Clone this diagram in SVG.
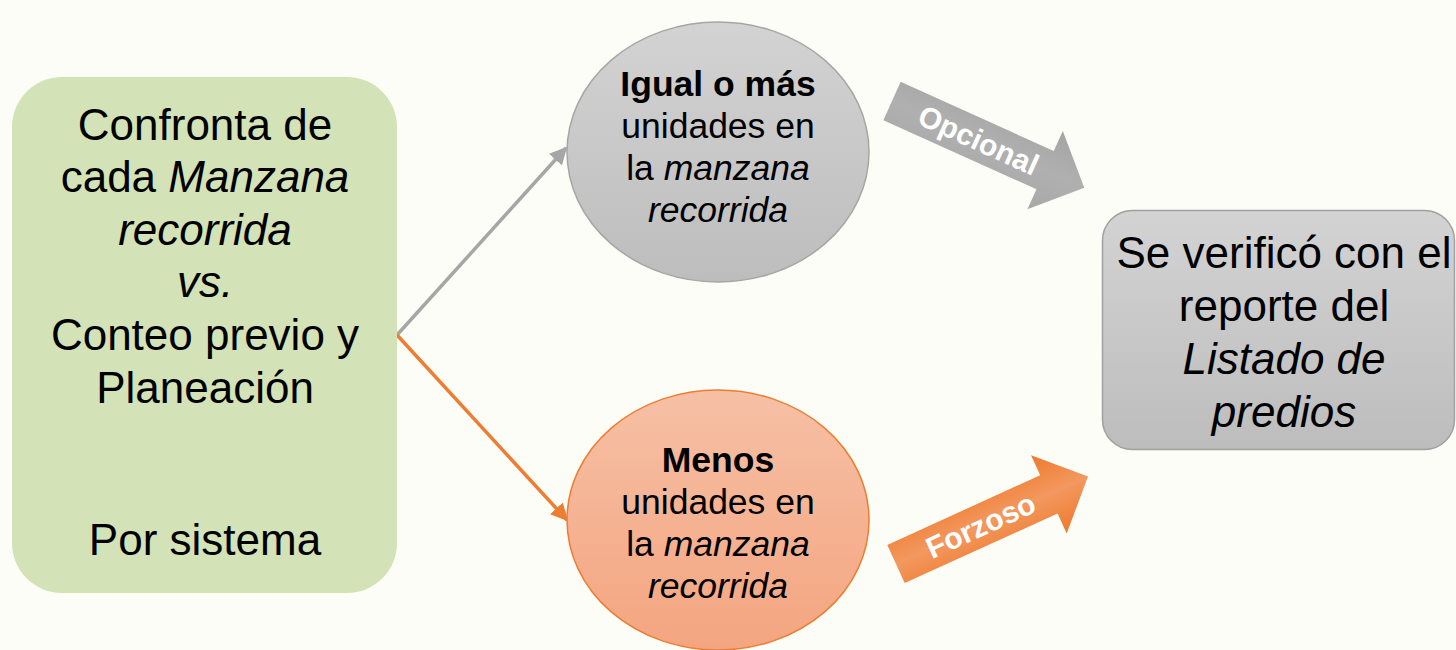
<svg xmlns="http://www.w3.org/2000/svg" width="1456" height="650" viewBox="0 0 1456 650">
<defs>
<style>
.t{font-family:"Liberation Sans",Arial,sans-serif;fill:#000;text-anchor:middle}
.big{font-size:44px}
.mid{font-size:35.5px}
.lbl{font-family:"Liberation Sans",Arial,sans-serif;font-weight:bold;font-size:30px;fill:#fff;text-anchor:middle}
.i{font-style:italic}
.b{font-weight:bold}
</style>
<linearGradient id="gGray" x1="0" y1="0" x2="0" y2="1">
<stop offset="0" stop-color="#d3d3d3"/><stop offset="1" stop-color="#bdbdbd"/>
</linearGradient>
<linearGradient id="gOrange" x1="0" y1="0" x2="0" y2="1">
<stop offset="0" stop-color="#f6c0a5"/><stop offset="1" stop-color="#f4a580"/>
</linearGradient>
<linearGradient id="gArrGray" x1="0" y1="-43" x2="0" y2="43" gradientUnits="userSpaceOnUse">
<stop offset="0" stop-color="#a4a4a4"/><stop offset="0.5" stop-color="#b0b0b0"/><stop offset="1" stop-color="#a8a8a8"/>
</linearGradient>
<linearGradient id="gArrOrange" x1="0" y1="-43" x2="0" y2="43" gradientUnits="userSpaceOnUse">
<stop offset="0" stop-color="#ee7a2c"/><stop offset="0.5" stop-color="#f39860"/><stop offset="1" stop-color="#ee7a2c"/>
</linearGradient>
<marker id="mGray" viewBox="0 0 10 10" refX="9" refY="5" markerWidth="5" markerHeight="5" orient="auto" markerUnits="strokeWidth">
<path d="M0,0 L10,5 L0,10 Z" fill="#a6a6a6"/>
</marker>
<marker id="mOrange" viewBox="0 0 10 10" refX="9" refY="5" markerWidth="5" markerHeight="5" orient="auto" markerUnits="strokeWidth">
<path d="M0,0 L10,5 L0,10 Z" fill="#ed7d31"/>
</marker>
</defs>
<rect width="1456" height="650" fill="#fdfdf8"/>

<g id="connectors">
<line x1="397" y1="335" x2="566" y2="148" stroke="#a6a6a6" stroke-width="3.5" marker-end="url(#mGray)"/>
<line x1="397" y1="335" x2="567" y2="520" stroke="#ed7d31" stroke-width="3.5" marker-end="url(#mOrange)"/>
</g>

<g id="node-confronta">
<rect x="12" y="77" width="385" height="516" rx="50" fill="#d3e2b7"/>
<text class="t big" x="205" y="140">Confronta de</text>
<text class="t big" x="205" y="192">cada <tspan class="i">Manzana</tspan></text>
<text class="t big i" x="205" y="245">recorrida</text>
<text class="t big i" x="205" y="297">vs.</text>
<text class="t big" x="205" y="350">Conteo previo y</text>
<text class="t big" x="205" y="403">Planeación</text>
<text class="t big" x="205" y="555">Por sistema</text>
</g>

<g id="node-igual">
<ellipse cx="718" cy="152" rx="151" ry="130" fill="url(#gGray)" stroke="#a6a6a6" stroke-width="1.5"/>
<text class="t mid b" x="718" y="96">Igual o más</text>
<text class="t mid" x="718" y="138">unidades en</text>
<text class="t mid" x="718" y="180">la <tspan class="i">manzana</tspan></text>
<text class="t mid i" x="718" y="222">recorrida</text>
</g>

<g id="node-menos">
<ellipse cx="718" cy="520" rx="151" ry="130" fill="url(#gOrange)" stroke="#ed7d31" stroke-width="1.5"/>
<text class="t mid b" x="718" y="472">Menos</text>
<text class="t mid" x="718" y="514">unidades en</text>
<text class="t mid" x="718" y="556">la <tspan class="i">manzana</tspan></text>
<text class="t mid i" x="718" y="598">recorrida</text>
</g>

<g id="node-verifico">
<rect x="1102.5" y="210.5" width="352" height="239" rx="30" fill="url(#gGray)" stroke="#a0a0a0" stroke-width="1.5"/>
<text class="t big" x="1284" y="268">Se verificó con el</text>
<text class="t big" x="1284" y="321">reporte del</text>
<text class="t big i" x="1284" y="374">Listado de</text>
<text class="t big i" x="1284" y="427">predios</text>
</g>

<g id="arrow-opcional" transform="translate(892,101) rotate(24.3)">
<polygon points="0,-21 168,-21 168,-43 211,0 168,43 168,21 0,21" fill="url(#gArrGray)"/>
<text class="lbl" x="95" y="10.5">Opcional</text>
</g>

<g id="arrow-forzoso" transform="translate(896,564) rotate(-24.5)">
<polygon points="0,-21 168,-21 168,-43 211,0 168,43 168,21 0,21" fill="url(#gArrOrange)"/>
<text class="lbl" x="93" y="10.5">Forzoso</text>
</g>
</svg>
